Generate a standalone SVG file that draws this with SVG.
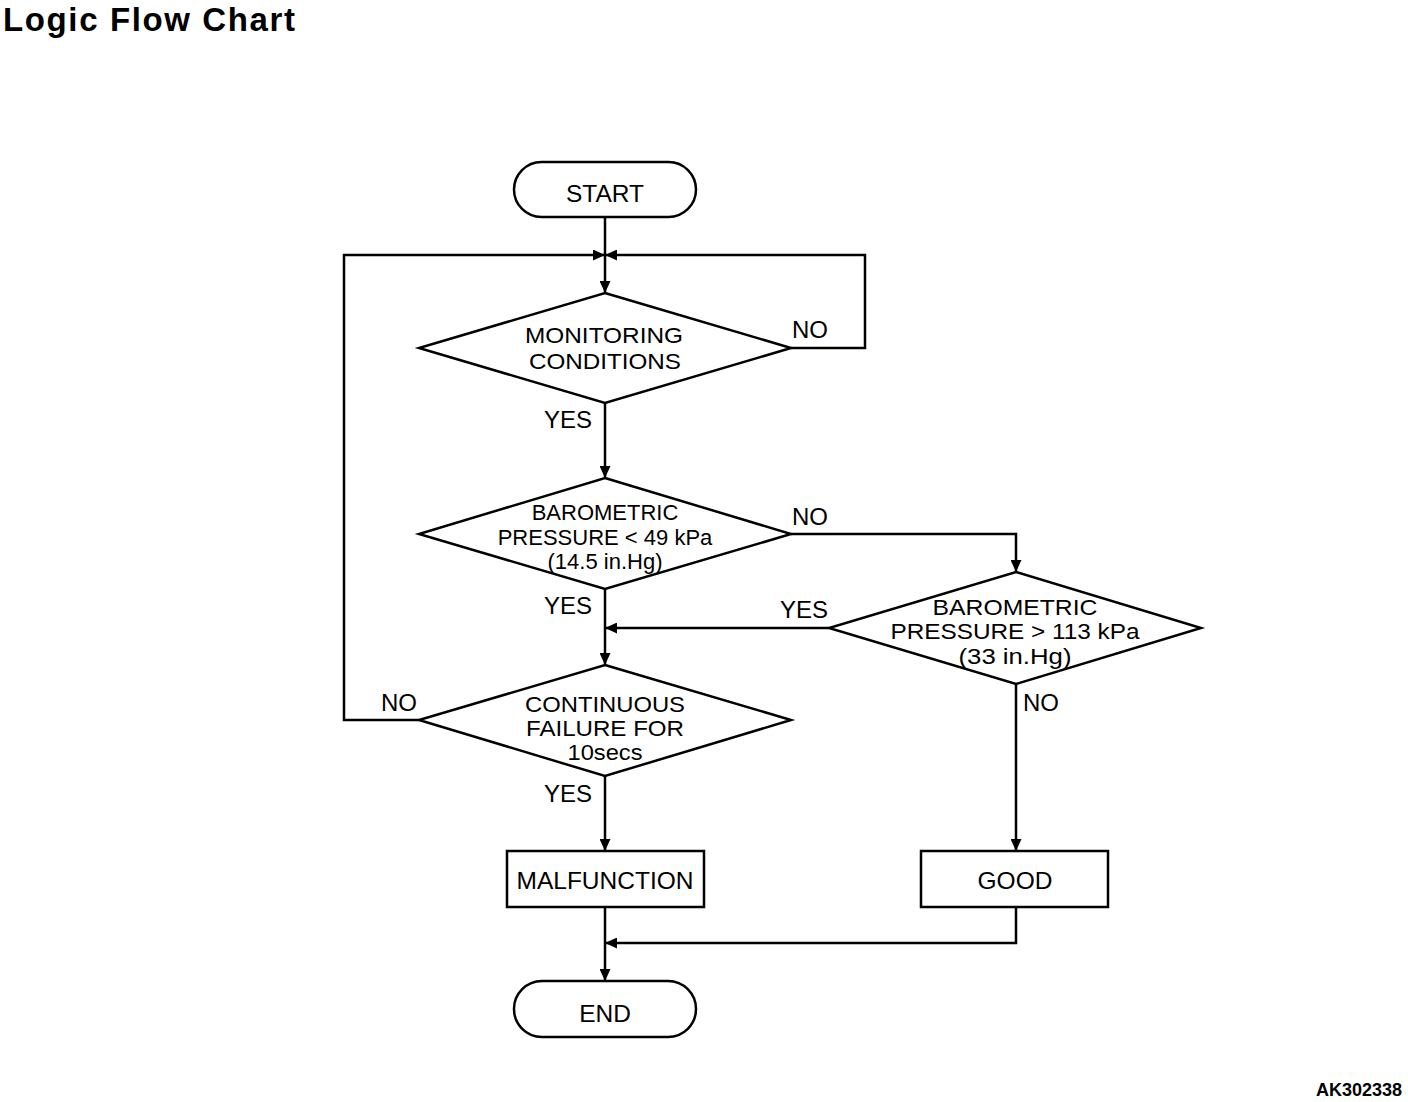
<svg xmlns="http://www.w3.org/2000/svg" width="1408" height="1102" viewBox="0 0 1408 1102">
<style>
.s{fill:#fff;stroke:#000;stroke-width:2.5}
.c{fill:none;stroke:#000;stroke-width:2.5}
text{font-family:"Liberation Sans",Arial,sans-serif;fill:#000}
.t{font-size:24.5px;text-anchor:middle}
.d{font-size:22.5px;text-anchor:middle}
.t2{font-size:22px;text-anchor:middle}
.l{font-size:24px}
</style>
<defs>
<marker id="a" markerUnits="userSpaceOnUse" markerWidth="12" markerHeight="11" refX="12" refY="5.5" orient="auto">
<path d="M0,0 L12,5.5 L0,11 z" fill="#000"/>
</marker>
</defs>
<rect width="1408" height="1102" fill="#fff"/>
<text x="3" y="31" font-size="33" font-weight="bold" textLength="292">Logic Flow Chart</text>
<text x="1402" y="1096" font-size="18" font-weight="bold" text-anchor="end">AK302338</text>
<g id="connectors">
<path class="c" d="M605,217 V293" marker-end="url(#a)"/>
<path class="c" d="M419,720 H344 V255 H605" marker-end="url(#a)"/>
<path class="c" d="M791,348 H865 V255 H605" marker-end="url(#a)"/>
<path class="c" d="M605,403 V478" marker-end="url(#a)"/>
<path class="c" d="M791,534 H1016 V572" marker-end="url(#a)"/>
<path class="c" d="M605,589 V665" marker-end="url(#a)"/>
<path class="c" d="M829,628 H605" marker-end="url(#a)"/>
<path class="c" d="M605,776 V851" marker-end="url(#a)"/>
<path class="c" d="M1016,684 V851" marker-end="url(#a)"/>
<path class="c" d="M1016,907 V943 H605" marker-end="url(#a)"/>
<path class="c" d="M605,907 V981" marker-end="url(#a)"/>
<text class="l" x="792" y="338">NO</text>
<text class="l" x="544" y="428">YES</text>
<text class="l" x="792" y="525">NO</text>
<text class="l" x="544" y="614">YES</text>
<text class="l" x="780" y="618">YES</text>
<text class="l" x="381" y="711">NO</text>
<text class="l" x="1023" y="711">NO</text>
<text class="l" x="544" y="802">YES</text>
</g>
<g id="start">
<rect class="s" x="514" y="162" width="182" height="55" rx="27.5"/>
<text class="t" x="605" y="202" font-size="26">START</text>
</g>
<g id="monitoring">
<polygon class="s" points="605,293 791,348 605,403 419,348"/>
<text class="d" x="604" y="343" textLength="158" lengthAdjust="spacingAndGlyphs">MONITORING</text>
<text class="d" x="605" y="369" textLength="152" lengthAdjust="spacingAndGlyphs">CONDITIONS</text>
</g>
<g id="baro-low">
<polygon class="s" points="605,478 791,534 605,589 419,534"/>
<text class="t2" x="605" y="520">BAROMETRIC</text>
<text class="t2" x="605" y="545">PRESSURE &lt; 49 kPa</text>
<text class="t2" x="605" y="569">(14.5 in.Hg)</text>
</g>
<g id="baro-high">
<polygon class="s" points="1016,572 1201,628 1016,684 829,628"/>
<text class="d" x="1015" y="615" textLength="165" lengthAdjust="spacingAndGlyphs">BAROMETRIC</text>
<text class="d" x="1015" y="639" textLength="249" lengthAdjust="spacingAndGlyphs">PRESSURE &gt; 113 kPa</text>
<text class="d" x="1015" y="664" textLength="113" lengthAdjust="spacingAndGlyphs">(33 in.Hg)</text>
</g>
<g id="continuous">
<polygon class="s" points="605,665 791,720 605,776 419,720"/>
<text class="d" x="605" y="712" textLength="160" lengthAdjust="spacingAndGlyphs">CONTINUOUS</text>
<text class="d" x="605" y="736" textLength="158" lengthAdjust="spacingAndGlyphs">FAILURE FOR</text>
<text class="d" x="605" y="760" textLength="75" lengthAdjust="spacingAndGlyphs">10secs</text>
</g>
<g id="malfunction">
<rect class="s" x="507" y="851" width="197" height="56"/>
<text class="t" x="605" y="889">MALFUNCTION</text>
</g>
<g id="good">
<rect class="s" x="921" y="851" width="187" height="56"/>
<text class="t" x="1015" y="889">GOOD</text>
</g>
<g id="end">
<rect class="s" x="514" y="981" width="182" height="56" rx="28"/>
<text class="t" x="605" y="1022" font-size="26">END</text>
</g>
</svg>
